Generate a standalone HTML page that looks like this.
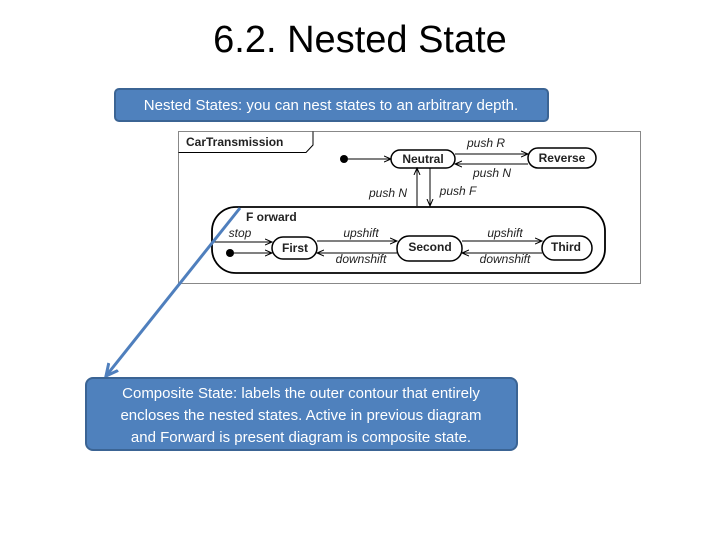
<!DOCTYPE html>
<html><head><style>
body{margin:0;width:720px;height:540px;background:#fff;overflow:hidden;}
svg{display:block}
</style></head><body>
<svg width="720" height="540" xmlns="http://www.w3.org/2000/svg" font-family="Liberation Sans, sans-serif">
<defs>
<marker id="a" markerWidth="8" markerHeight="8" refX="7" refY="4" orient="auto" markerUnits="userSpaceOnUse"><path d="M0,1 L7,4 L0,7" fill="none" stroke="#000" stroke-width="1"/></marker>
<marker id="b" markerWidth="16" markerHeight="16" refX="12" refY="8" orient="auto" markerUnits="userSpaceOnUse"><path d="M0,2 L12,8 L0,14" fill="none" stroke="#4f7fbd" stroke-width="3"/></marker>
</defs>
<text x="360" y="52" text-anchor="middle" font-family="Liberation Sans, sans-serif" font-size="38" fill="#000">6.2. Nested State</text>
<rect x="115" y="89" width="433" height="32" rx="4" fill="#4f81bd" stroke="#3b6494" stroke-width="2"/>
<text x="331" y="110" text-anchor="middle" font-size="15" fill="#fff">Nested States: you can nest states to an arbitrary depth.</text>
<!-- diagram -->
<rect x="178.5" y="131.5" width="462" height="152" fill="#fff" stroke="#888" stroke-width="1"/>
<path d="M178.5,152.5 H306 L313,145 V131.5" fill="none" stroke="#000"/>
<text x="186" y="146" font-size="12" font-weight="bold" fill="#222">CarTransmission</text>
<circle cx="344" cy="159" r="4" fill="#000"/>
<line x1="348" y1="159" x2="391" y2="159" stroke="#000" marker-end="url(#a)"/>
<rect x="391" y="150" width="64" height="18" rx="9" fill="#fff" stroke="#000" stroke-width="1.5"/>
<text x="423" y="163" text-anchor="middle" font-size="12" font-weight="bold" fill="#222">Neutral</text>
<rect x="528" y="148" width="68" height="20" rx="10" fill="#fff" stroke="#000" stroke-width="1.5"/>
<text x="562" y="162" text-anchor="middle" font-size="12" font-weight="bold" fill="#222">Reverse</text>
<line x1="455" y1="154" x2="528" y2="154" stroke="#000" marker-end="url(#a)"/>
<line x1="528" y1="164" x2="455" y2="164" stroke="#000" marker-end="url(#a)"/>
<text x="486" y="147" text-anchor="middle" font-size="12" font-style="italic" fill="#222">push R</text>
<text x="492" y="177" text-anchor="middle" font-size="12" font-style="italic" fill="#222">push N</text>
<line x1="417" y1="206" x2="417" y2="168" stroke="#000" marker-end="url(#a)"/>
<line x1="430" y1="168" x2="430" y2="206" stroke="#000" marker-end="url(#a)"/>
<text x="388" y="197" text-anchor="middle" font-size="12" font-style="italic" fill="#222">push N</text>
<text x="458" y="195" text-anchor="middle" font-size="12" font-style="italic" fill="#222">push F</text>
<rect x="212" y="207" width="393" height="66" rx="24" fill="none" stroke="#000" stroke-width="1.8"/>
<text x="246" y="221" font-size="12" font-weight="bold" fill="#222">F orward</text>
<line x1="212" y1="242" x2="272" y2="242" stroke="#000" marker-end="url(#a)"/>
<text x="240" y="237" text-anchor="middle" font-size="12" font-style="italic" fill="#222">stop</text>
<circle cx="230" cy="253" r="4" fill="#000"/>
<line x1="234" y1="253" x2="272" y2="253" stroke="#000" marker-end="url(#a)"/>
<rect x="272" y="237" width="45" height="22" rx="11" fill="#fff" stroke="#000" stroke-width="1.5"/>
<text x="295" y="252" text-anchor="middle" font-size="12" font-weight="bold" fill="#222">First</text>
<rect x="397" y="236" width="65" height="25" rx="12" fill="#fff" stroke="#000" stroke-width="1.5"/>
<text x="430" y="251" text-anchor="middle" font-size="12" font-weight="bold" fill="#222">Second</text>
<rect x="542" y="236" width="50" height="24" rx="12" fill="#fff" stroke="#000" stroke-width="1.5"/>
<text x="566" y="251" text-anchor="middle" font-size="12" font-weight="bold" fill="#222">Third</text>
<line x1="317" y1="241" x2="397" y2="241" stroke="#000" marker-end="url(#a)"/>
<line x1="397" y1="253" x2="317" y2="253" stroke="#000" marker-end="url(#a)"/>
<line x1="462" y1="241" x2="542" y2="241" stroke="#000" marker-end="url(#a)"/>
<line x1="542" y1="253" x2="462" y2="253" stroke="#000" marker-end="url(#a)"/>
<text x="361" y="237" text-anchor="middle" font-size="12" font-style="italic" fill="#222">upshift</text>
<text x="361" y="263" text-anchor="middle" font-size="12" font-style="italic" fill="#222">downshift</text>
<text x="505" y="237" text-anchor="middle" font-size="12" font-style="italic" fill="#222">upshift</text>
<text x="505" y="263" text-anchor="middle" font-size="12" font-style="italic" fill="#222">downshift</text>
<!-- arrow -->
<line x1="240" y1="208" x2="106" y2="376" stroke="#4f7fbd" stroke-width="3" marker-end="url(#b)"/>
<rect x="86" y="378" width="431" height="72" rx="7" fill="#4f81bd" stroke="#3b6494" stroke-width="2"/>
<text x="301" y="398" text-anchor="middle" font-size="15" fill="#fff">Composite State: labels the outer contour that entirely</text>
<text x="301" y="420" text-anchor="middle" font-size="15" fill="#fff">encloses the nested states. Active in previous diagram</text>
<text x="301" y="442" text-anchor="middle" font-size="15" fill="#fff">and Forward is present diagram is composite state.</text>
</svg>
</body></html>
